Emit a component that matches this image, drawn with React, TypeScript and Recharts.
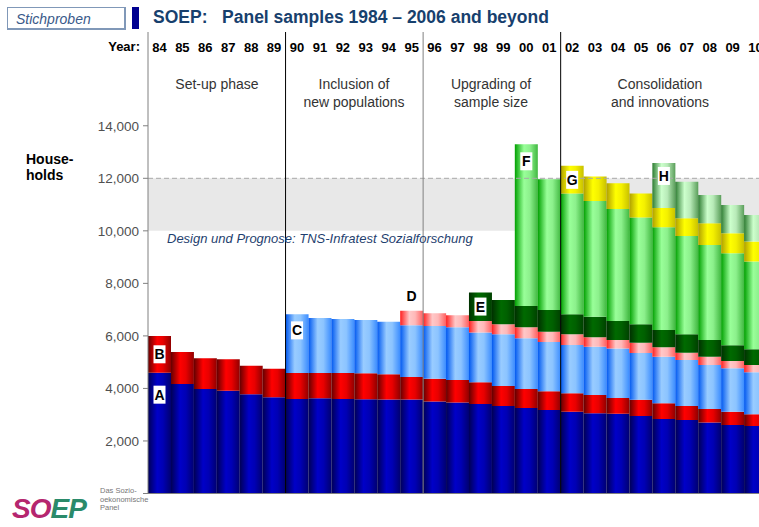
import React from 'react';
import { BarChart, Bar, XAxis, YAxis, ReferenceLine, ReferenceArea } from 'recharts';

const years = ['84', '85', '86', '87', '88', '89', '90', '91', '92', '93', '94', '95', '96', '97', '98', '99', '00', '01', '02', '03', '04', '05', '06', '07', '08', '09', '10'];

const sampleA = [4600, 4170, 3980, 3915, 3775, 3660, 3600, 3630, 3600, 3590, 3575, 3580, 3500, 3460, 3410, 3330, 3255, 3180, 3115, 3055, 3035, 2950, 2840, 2800, 2700, 2610, 2570];
const sampleB = [1400, 1220, 1170, 1195, 1090, 1090, 990, 960, 990, 985, 965, 860, 870, 860, 825, 760, 725, 710, 700, 695, 600, 620, 595, 530, 515, 505, 445];
const sampleC = [null, null, null, null, null, null, 2230, 2090, 2050, 2030, 2000, 1970, 2005, 2005, 1890, 1970, 1930, 1875, 1840, 1840, 1890, 1775, 1775, 1750, 1680, 1650, 1600];
const sampleD = [null, null, null, null, null, null, null, null, null, null, null, 545, 485, 460, 445, 380, 420, 395, 405, 360, 315, 395, 355, 280, 315, 280, 280];
const sampleE = [null, null, null, null, null, null, null, null, null, null, null, null, null, null, 1080, 925, 810, 825, 760, 775, 725, 700, 660, 700, 635, 600, 600];
const sampleF = [null, null, null, null, null, null, null, null, null, null, null, null, null, null, null, null, 6155, 4975, 4605, 4415, 4265, 4070, 3910, 3745, 3615, 3505, 3335];
const sampleG = [null, null, null, null, null, null, null, null, null, null, null, null, null, null, null, null, null, null, 1050, 925, 980, 915, 735, 670, 825, 760, 760];
const sampleH = [null, null, null, null, null, null, null, null, null, null, null, null, null, null, null, null, null, null, null, null, null, null, 1715, 1395, 1080, 1075, 1015];

const yTicks = [0, 2000, 4000, 6000, 8000, 10000, 12000, 14000];

const rows = years.map((year, i) => ({
  year,
  A: sampleA[i],
  B: sampleB[i],
  C: sampleC[i],
  D: sampleD[i],
  E: sampleE[i],
  F: sampleF[i],
  G: sampleG[i],
  H: sampleH[i],
}));

const FONT = 'Arial, "Liberation Sans", sans-serif';

// horizontal "cylinder" shading per sample
const gradients: Record<string, string[]> = {
  A: ['#000055', '#0000c8', '#0000b4', '#000070'],
  B: ['#640000', '#ff0000', '#e80000', '#900000'],
  C: ['#0058f0', '#99ccff', '#8cc4ff', '#3b8cff'],
  D: ['#ff2020', '#ffc8c8', '#ffb8b8', '#ff6060'],
  E: ['#003000', '#006a00', '#006000', '#004000'],
  F: ['#00a000', '#99ff99', '#8cf08c', '#40b840'],
  G: ['#b0a000', '#ffff00', '#f4f000', '#c8c000'],
  H: ['#2e7d32', '#ccffcc', '#b8eab8', '#5a9e5a'],
};

const Marker = ({ letter, cx, cy }: { letter: string; cx: number; cy: number }) => (
  <g>
    <rect x={cx - 6} y={cy - 9} width={12} height={18} fill="#fff" />
    <text x={cx} y={cy + 5} textAnchor="middle" fontFamily={FONT} fontWeight="bold" fontSize={14} fill="#000">
      {letter}
    </text>
  </g>
);

// label index counts only the drawn (non-empty) segments, so 0 = first year a sample appears
const marker = (letter: string, where: 'top' | 'mid' | 'above', off: number) => (p: any) => {
  if (p.index !== 0) return null;
  const cx = p.x + p.width / 2;
  const cy = where === 'mid' ? p.y + p.height / 2 : where === 'above' ? p.y - off : p.y + off;
  return <Marker key={letter} letter={letter} cx={cx} cy={cy} />;
};

const YearTick = (props: any) => (
  <text x={props.x} y={props.y + 20} textAnchor="middle" fontFamily={FONT} fontWeight="bold" fontSize={13} fill="#000">
    {props.payload.value}
  </text>
);

const phaseStyle: React.CSSProperties = {
  position: 'absolute',
  fontSize: 14,
  color: '#333',
  lineHeight: '18px',
  textAlign: 'center',
  transform: 'translateX(-50%)',
  whiteSpace: 'nowrap',
};

export default function App() {
  return (
    <div style={{ position: 'fixed', left: 0, top: 0, width: 759, height: 527, overflow: 'hidden', background: '#fff', fontFamily: FONT }}>
      <svg width={0} height={0} style={{ position: 'absolute' }}>
        <defs>
          {Object.keys(gradients).map((k) => (
            <linearGradient key={k} id={`g${k}`} x1="0" y1="0" x2="1" y2="0">
              <stop offset="0%" stopColor={gradients[k][0]} />
              <stop offset="40%" stopColor={gradients[k][1]} />
              <stop offset="65%" stopColor={gradients[k][2]} />
              <stop offset="100%" stopColor={gradients[k][3]} />
            </linearGradient>
          ))}
        </defs>
      </svg>

      <div style={{ position: 'absolute', left: 0, top: 0 }}>
        <BarChart width={767} height={527} data={rows} margin={{ top: 12, right: 0, bottom: 33.5, left: 0 }} barCategoryGap={0}>
          <ReferenceArea y1={10000} y2={12000} fill="#e8e8e8" fillOpacity={1} stroke="none" />
          <ReferenceLine y={12000} stroke="#a8a8a8" strokeDasharray="5 3" />
          <XAxis dataKey="year" orientation="top" height={20} axisLine={false} tickLine={false} tickSize={0} tickMargin={0} interval={0} tick={(p: any) => <YearTick {...p} />} />
          <YAxis
            width={148}
            domain={[0, 17570]}
            ticks={yTicks}
            allowDataOverflow
            tickFormatter={(v: number) => (v === 0 ? '' : v.toLocaleString('en-US'))}
            axisLine={{ stroke: '#808080' }}
            tickLine={{ stroke: '#808080' }}
            tickSize={5}
            tickMargin={4}
            tick={{ fill: '#505050', fontSize: 13.5, fontFamily: FONT }}
          />
          <Bar dataKey="A" stackId="s" fill="url(#gA)" isAnimationActive={false} label={marker('A', 'top', 22)} />
          <Bar dataKey="B" stackId="s" fill="url(#gB)" isAnimationActive={false} label={marker('B', 'mid', 0)} />
          <Bar dataKey="C" stackId="s" fill="url(#gC)" isAnimationActive={false} label={marker('C', 'top', 16)} />
          <Bar dataKey="D" stackId="s" fill="url(#gD)" isAnimationActive={false} label={marker('D', 'above', 15)} />
          <Bar dataKey="E" stackId="s" fill="url(#gE)" isAnimationActive={false} label={marker('E', 'top', 14)} />
          <Bar dataKey="F" stackId="s" fill="url(#gF)" isAnimationActive={false} label={marker('F', 'top', 17)} />
          <Bar dataKey="G" stackId="s" fill="url(#gG)" isAnimationActive={false} label={marker('G', 'top', 14)} />
          <Bar dataKey="H" stackId="s" fill="url(#gH)" isAnimationActive={false} label={marker('H', 'top', 13)} />
          <ReferenceLine x="90" position="start" stroke="#000" />
          <ReferenceLine x="96" position="start" stroke="#808080" />
          <ReferenceLine x="02" position="start" stroke="#000" />
          <ReferenceLine y={0} stroke="#808080" />
        </BarChart>
      </div>

      {/* header */}
      <div style={{ position: 'absolute', left: 7, top: 7, width: 119, height: 23, border: '1px solid #8098b8', borderRightWidth: 2, borderBottomWidth: 2, boxSizing: 'border-box', background: '#fff' }}>
        <span style={{ position: 'absolute', left: 8, top: 3, fontSize: 14, fontStyle: 'italic', color: '#3a5a8a' }}>Stichproben</span>
      </div>
      <div style={{ position: 'absolute', left: 132, top: 7, width: 7, height: 22, background: '#000090' }} />
      <div style={{ position: 'absolute', left: 153, top: 7, fontSize: 17.5, fontWeight: 'bold', color: '#17406d', whiteSpace: 'pre' }}>
        {'SOEP:   Panel samples 1984 – 2006 and beyond'}
      </div>
      <div style={{ position: 'absolute', right: 759 - 140, top: 39, fontSize: 13, fontWeight: 'bold', color: '#000' }}>Year:</div>
      <div style={{ position: 'absolute', left: 26, top: 151, fontSize: 14, fontWeight: 'bold', color: '#000', lineHeight: '16px' }}>
        House-
        <br />
        holds
      </div>

      {/* phases */}
      <div style={{ ...phaseStyle, left: 217, top: 75 }}>Set-up phase</div>
      <div style={{ ...phaseStyle, left: 354, top: 75 }}>
        Inclusion of
        <br />
        new populations
      </div>
      <div style={{ ...phaseStyle, left: 491, top: 75 }}>
        Upgrading of
        <br />
        sample size
      </div>
      <div style={{ ...phaseStyle, left: 660, top: 75 }}>
        Consolidation
        <br />
        and innovations
      </div>

      <div style={{ position: 'absolute', left: 167, top: 231, fontSize: 13, fontStyle: 'italic', color: '#1f3f6f' }}>
        Design und Prognose: TNS-Infratest Sozialforschung
      </div>

      {/* logo */}
      <div style={{ position: 'absolute', left: 12, top: 494, fontSize: 28, lineHeight: '30px', fontWeight: 'bold', fontStyle: 'italic', letterSpacing: -1 }}>
        <span style={{ color: '#b5266f' }}>SO</span>
        <span style={{ color: '#2a8a6a' }}>EP</span>
      </div>
      <div style={{ position: 'absolute', left: 100, top: 487, fontSize: 7.5, lineHeight: '8.5px', color: '#777' }}>
        Das Sozio-
        <br />
        oekonomische
        <br />
        Panel
      </div>
    </div>
  );
}
